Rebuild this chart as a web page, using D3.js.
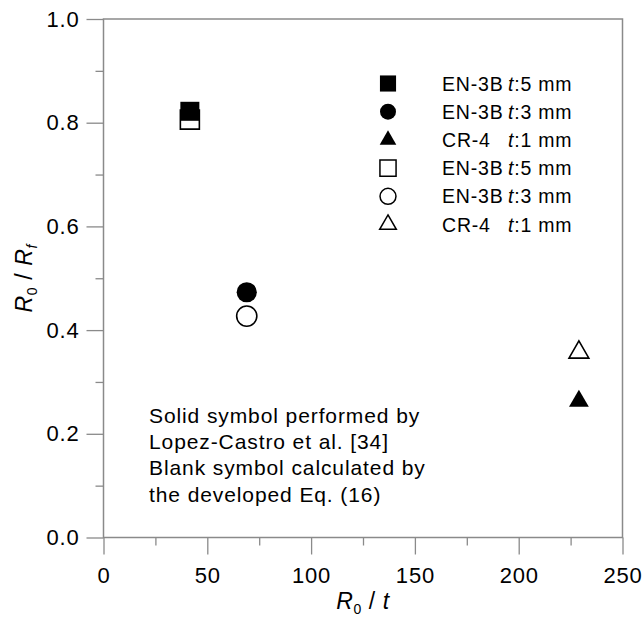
<!DOCTYPE html>
<html>
<head>
<meta charset="utf-8">
<script src="https://cdn.jsdelivr.net/npm/d3@7"></script>
<style>
  body { margin: 0; background: #fff; }
  svg { display: block; font-family: Arial, 'Liberation Sans', sans-serif; }
</style>
</head>
<body>
<div id="chart"></div>
<script>
const width = 643;
const height = 621;

// Data
const materials = ['EN-3B', 'EN-3B', 'CR-4', 'EN-3B', 'EN-3B', 'CR-4'];
const thickness = ['5', '3', '1', '5', '3', '1'];
const r0t = [41.6, 69, 229, 41.6, 69, 229];
const ratio = [0.822, 0.473, 0.263, 0.806, 0.427, 0.357];
const solid = [true, true, true, false, false, false];
const shapes = ['square', 'circle', 'triangle', 'square', 'circle', 'triangle'];

const xTicks = [0, 50, 100, 150, 200, 250];
const yTicks = [0, 0.2, 0.4, 0.6, 0.8, 1.0];

const notes = [
  'Solid symbol performed by',
  'Lopez-Castro et al. [34]',
  'Blank symbol calculated by',
  'the developed Eq. (16)'
];

const margin = { left: 103.5, right: 20.5, top: 19, bottom: 83.5 };
const axisColor = '#8a8a8a';

const svg = d3.select('#chart').append('svg')
  .attr('width', width)
  .attr('height', height);

const x = d3.scaleLinear()
  .domain([0, 250])
  .range([margin.left, width - margin.right]);

const y = d3.scaleLinear()
  .domain([0, 1])
  .range([height - margin.bottom, margin.top]);

// Frame
svg.append('rect')
  .attr('x', x(0))
  .attr('y', y(1))
  .attr('width', x(250) - x(0))
  .attr('height', y(0) - y(1))
  .attr('fill', 'none')
  .attr('stroke', axisColor)
  .attr('stroke-width', 1.5);

// Axes
const xAxis = svg.append('g')
  .attr('transform', `translate(0, ${y(0)})`)
  .call(d3.axisBottom(x).tickValues(xTicks).tickSize(17).tickSizeOuter(0).tickPadding(13));

const xMinor = svg.append('g')
  .attr('transform', `translate(0, ${y(0)})`)
  .call(d3.axisBottom(x).tickValues(d3.range(25, 250, 50)).tickSize(8).tickSizeOuter(0).tickFormat(''));

const yAxis = svg.append('g')
  .attr('transform', `translate(${x(0)}, 0)`)
  .call(d3.axisLeft(y).tickValues(yTicks).tickSize(17).tickSizeOuter(0).tickPadding(7).tickFormat(d3.format('.1f')));

const yMinor = svg.append('g')
  .attr('transform', `translate(${x(0)}, 0)`)
  .call(d3.axisLeft(y).tickValues(d3.range(0.1, 1, 0.2)).tickSize(8).tickSizeOuter(0).tickFormat(''));

[xAxis, xMinor, yAxis, yMinor].forEach(g => {
  g.select('.domain').remove();
  g.selectAll('line').attr('stroke', axisColor).attr('stroke-width', 1.3);
  g.selectAll('text').attr('fill', '#000').attr('font-size', 22)
    .attr('letter-spacing', 0.8)
    .attr('font-family', "Arial, 'Liberation Sans', sans-serif");
});

// Axis titles
const xTitle = svg.append('text')
  .attr('x', (x(0) + x(250)) / 2)
  .attr('y', 609)
  .attr('text-anchor', 'middle')
  .attr('font-size', 23)
  .attr('letter-spacing', 0.6);
xTitle.append('tspan').attr('font-style', 'italic').text('R');
xTitle.append('tspan').attr('font-size', 14).attr('dy', 5).text('0');
xTitle.append('tspan').attr('dy', -5).text(' / ');
xTitle.append('tspan').attr('font-style', 'italic').text('t');

const yTitle = svg.append('text')
  .attr('transform', `translate(32, ${(y(0) + y(1)) / 2}) rotate(-90)`)
  .attr('text-anchor', 'middle')
  .attr('font-size', 23)
  .attr('letter-spacing', 0.6);
yTitle.append('tspan').attr('font-style', 'italic').text('R');
yTitle.append('tspan').attr('font-size', 14).attr('dy', 5).text('0');
yTitle.append('tspan').attr('dy', -5).text(' / ');
yTitle.append('tspan').attr('font-style', 'italic').text('R');
yTitle.append('tspan').attr('font-size', 14).attr('font-style', 'italic').attr('dy', 5).text('f');

// Symbols
const symbolType = { square: d3.symbolSquare, circle: d3.symbolCircle, triangle: d3.symbolTriangle };
const symbolSize = { square: 361, circle: 320, triangle: 170 };
const legendSize = { square: 260, circle: 200, triangle: 120 };

const points = r0t.map((v, i) => ({ x: v, y: ratio[i], shape: shapes[i], solid: solid[i] }));
const order = d3.range(points.length).sort((a, b) => d3.ascending(points[a].solid, points[b].solid));

svg.append('g')
  .selectAll('path')
  .data(order.map(i => points[i]))
  .join('path')
  .attr('transform', d => `translate(${x(d.x)}, ${y(d.y)})`)
  .attr('d', d => d3.symbol(symbolType[d.shape], symbolSize[d.shape])())
  .attr('fill', d => d.solid ? '#000' : '#fff')
  .attr('stroke', '#000')
  .attr('stroke-width', d => d.solid ? 0 : 1.6);

// Legend
const legend = svg.append('g');
const rowY = i => 83.5 + i * 28.2;

legend.selectAll('path')
  .data(points)
  .join('path')
  .attr('transform', (d, i) => `translate(388, ${rowY(i)})`)
  .attr('d', d => d3.symbol(symbolType[d.shape], legendSize[d.shape])())
  .attr('fill', d => d.solid ? '#000' : '#fff')
  .attr('stroke', '#000')
  .attr('stroke-width', d => d.solid ? 0 : 1.5);

legend.selectAll('text.name')
  .data(materials)
  .join('text')
  .attr('class', 'name')
  .attr('x', 442)
  .attr('y', (d, i) => rowY(i) + 7)
  .attr('font-size', 19.5)
  .attr('letter-spacing', 0.8)
  .text(d => d);

const tLabel = legend.selectAll('text.thick')
  .data(thickness)
  .join('text')
  .attr('class', 'thick')
  .attr('x', 508)
  .attr('y', (d, i) => rowY(i) + 7)
  .attr('font-size', 19.5)
  .attr('letter-spacing', 0.8);
tLabel.append('tspan').attr('font-style', 'italic').text('t');
tLabel.append('tspan').text(d => ':' + d + ' mm');

// Note
svg.append('g')
  .selectAll('text')
  .data(notes)
  .join('text')
  .attr('x', 149)
  .attr('y', (d, i) => 423 + i * 26.2)
  .attr('font-size', 21)
  .attr('letter-spacing', 0.9)
  .text(d => d);
</script>
</body>
</html>
